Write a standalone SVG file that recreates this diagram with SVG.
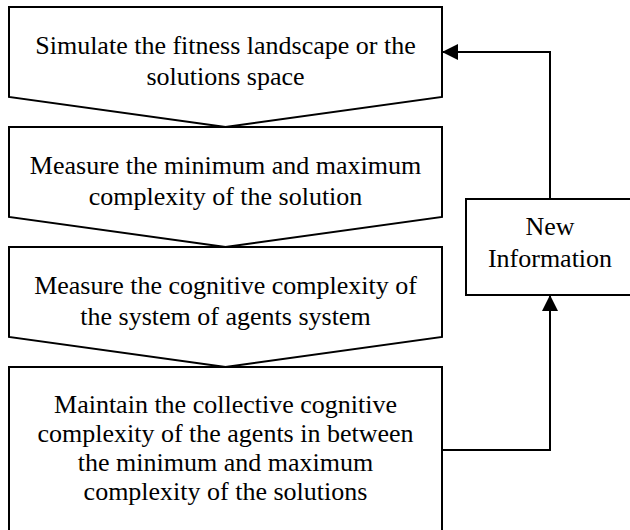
<svg xmlns="http://www.w3.org/2000/svg" width="630" height="530" viewBox="0 0 630 530">
<defs>
<style>
.shape{fill:#fff;stroke:#000;stroke-width:2}
.t{font-family:"Liberation Serif","Times New Roman",serif;font-size:26px;fill:#000;text-anchor:middle}
.conn{fill:none;stroke:#000;stroke-width:2}
</style>
<marker id="ah" viewBox="0 0 16 16" refX="15" refY="8" markerWidth="16" markerHeight="16" markerUnits="userSpaceOnUse" orient="auto">
<path d="M0,0 L16,8 L0,16 Z" fill="#000"/>
</marker>
</defs>
<rect width="630" height="530" fill="#fff"/>
<g id="step1">
<path class="shape" d="M9,7 H442 V97 L225.5,127 L9,97 Z"/>
<text class="t" x="225.5" y="54">Simulate the fitness landscape or the</text>
<text class="t" x="225.5" y="85">solutions space</text>
</g>
<g id="step2">
<path class="shape" d="M9,127 H442 V217 L225.5,247 L9,217 Z"/>
<text class="t" x="225.5" y="174">Measure the minimum and maximum</text>
<text class="t" x="225.5" y="205">complexity of the solution</text>
</g>
<g id="step3">
<path class="shape" d="M9,247 H442 V337 L225.5,367 L9,337 Z"/>
<text class="t" x="225.5" y="294">Measure the cognitive complexity of</text>
<text class="t" x="225.5" y="325">the system of agents system</text>
</g>
<g id="step4">
<path class="shape" d="M9,367 H442 V540 H9 Z"/>
<text class="t" x="225.5" y="413">Maintain the collective cognitive</text>
<text class="t" x="225.5" y="442">complexity of the agents in between</text>
<text class="t" x="225.5" y="471">the minimum and maximum</text>
<text class="t" x="225.5" y="500">complexity of the solutions</text>
</g>
<g id="newinfo">
<rect class="shape" x="466" y="199" width="168" height="96"/>
<text class="t" x="550" y="235">New</text>
<text class="t" x="550" y="267">Information</text>
</g>
<g id="connectors">
<path class="conn" d="M442,450 H550 V296" marker-end="url(#ah)"/>
<path class="conn" d="M550,199 V52 H443" marker-end="url(#ah)"/>
</g>
</svg>
